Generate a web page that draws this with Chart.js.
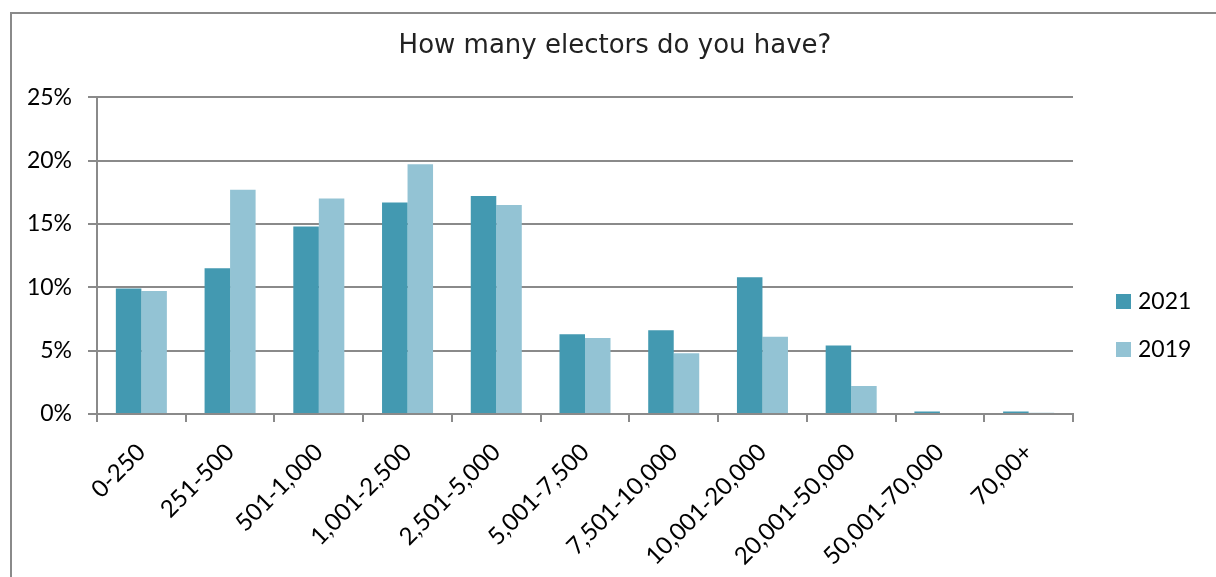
<!DOCTYPE html>
<html>
<head>
<meta charset="utf-8">
<script src="https://cdn.jsdelivr.net/npm/chart.js@4/dist/chart.umd.min.js"></script>
<style>
  html, body { margin: 0; padding: 0; background: #fff; overflow: hidden; width: 1216px; height: 577px; }
  #frame { position: absolute; left: 10px; top: 12px; width: 1260px; height: 620px; border: 2px solid #8a8a8a; box-sizing: border-box; }
  #c { position: absolute; left: 0; top: 0; }
</style>
</head>
<body>
<div id="frame"></div>
<canvas id="c" width="1230" height="577"></canvas>
<script>
const categories = ["0-250", "251-500", "501-1,000", "1,001-2,500", "2,501-5,000", "5,001-7,500", "7,501-10,000", "10,001-20,000", "20,001-50,000", "50,001-70,000", "70,00+"];
const series2021 = [9.9, 11.5, 14.8, 16.7, 17.2, 6.3, 6.6, 10.8, 5.4, 0.2, 0.2];
const series2019 = [9.7, 17.7, 17.0, 19.7, 16.5, 6.0, 4.8, 6.1, 2.2, 0.0, 0.1];
const seriesLabels = ["2021", "2019"];
const yTicks = [0, 5, 10, 15, 20, 25];
const titleText = "How many electors do you have?";

const gridColor = "#8a8a8a";
const xLabelFont = { family: "Lato, 'Open Sans', sans-serif", size: 24 };
const yLabelFont = { family: "Lato, 'Open Sans', sans-serif", size: 23 };

const legendPlugin = {
  id: "sideLegend",
  afterDraw(chart) {
    const ctx = chart.ctx;
    ctx.save();
    ctx.font = "23px Lato, 'Open Sans', sans-serif";
    ctx.textBaseline = "middle";
    ctx.textAlign = "left";
    chart.data.datasets.forEach((ds, i) => {
      const y = 301 + i * 48;
      ctx.fillStyle = ds.backgroundColor;
      ctx.fillRect(1116, y - 7, 15, 15);
      ctx.fillStyle = "#000";
      ctx.fillText(ds.label, 1138, y + 1);
    });
    ctx.restore();
  }
};

new Chart(document.getElementById("c"), {
  type: "bar",
  data: {
    labels: categories,
    datasets: [
      { label: seriesLabels[0], data: series2021, backgroundColor: "#4399b1", borderWidth: 0 },
      { label: seriesLabels[1], data: series2019, backgroundColor: "#93c3d4", borderWidth: 0 }
    ]
  },
  options: {
    responsive: false,
    animation: false,
    devicePixelRatio: 1,
    layout: { padding: 0 },
    datasets: { bar: { categoryPercentage: 0.575, barPercentage: 1.0 } },
    plugins: {
      legend: { display: false },
      tooltip: { enabled: false },
      title: {
        display: true,
        text: titleText,
        color: "#222",
        font: { family: "'DejaVu Sans', sans-serif", size: 26, weight: "normal" },
        padding: { top: 31, bottom: 35 }
      }
    },
    scales: {
      x: {
        offset: true,
        grid: { drawOnChartArea: false, drawTicks: true, tickLength: 8, color: gridColor, lineWidth: 2, offset: true },
        border: { display: true, color: gridColor, width: 2 },
        ticks: { color: "#000", font: xLabelFont, maxRotation: 45, minRotation: 45, autoSkip: false, padding: 16 },
        afterFit(scale) { scale.height = 163; }
      },
      y: {
        min: 0,
        max: 25,
        afterBuildTicks(scale) { scale.ticks = yTicks.map(v => ({ value: v })); },
        grid: { color: gridColor, lineWidth: 2, tickLength: 9, drawTicks: true },
        border: { display: true, color: gridColor, width: 2 },
        ticks: { color: "#000", font: yLabelFont, padding: 16, callback: v => v + "%" },
        afterFit(scale) { scale.width = 97; }
      },
      side: {
        position: "right",
        display: true,
        grid: { display: false, drawTicks: false },
        border: { display: false },
        ticks: { display: false },
        afterFit(scale) { scale.width = 157; }
      }
    }
  },
  plugins: [legendPlugin]
});
</script>
</body>
</html>
